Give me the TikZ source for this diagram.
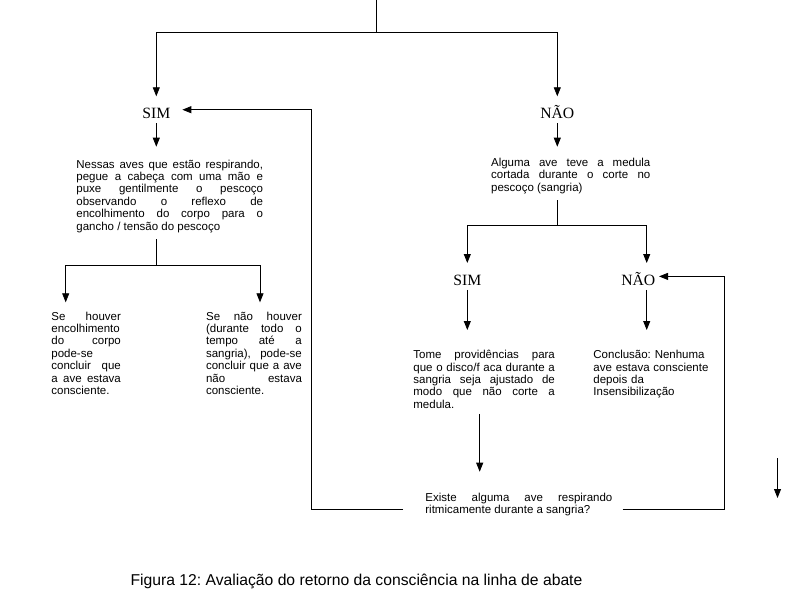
\documentclass[tikz,border=0pt]{standalone}
\usepackage{fontspec}
\setmainfont{Liberation Sans}
\newfontfamily\serifa{Liberation Serif}
\usetikzlibrary{arrows.meta,positioning,calc}
\frenchspacing

\begin{document}
\begin{tikzpicture}[x=1pt,y=-1pt,line width=0.8pt,
    seta/.style={-{Triangle[width=7pt,length=9pt]}},
    rotulo/.style={font=\serifa\fontsize{15.7}{16}\selectfont, inner xsep=0pt, inner ysep=4pt,
        text height=17.6pt, text depth=0.4pt, anchor=base},
    texto/.style={font=\fontsize{11.5}{12.4}\selectfont, inner sep=0pt, align=justify, anchor=north west}]
    \useasboundingbox (0,0) rectangle (791,600);

    \coordinate (topo) at (376.7,0);
    \coordinate (ramo) at (376.7,32.3);
    \node[rotulo] (sim1) at (156.3,118.3) {SIM};
    \node[rotulo] (nao1) at (557.3,118.3) {NÃO};
    \node[texto, text width=186.7pt] (nessas) at (76,159.3)
        {Nessas aves que estão respirando,\linebreak pegue a cabeça com uma mão e\linebreak
         puxe gentilmente o pescoço\linebreak observando o reflexo de\linebreak
         encolhimento do corpo para o\linebreak gancho / tensão do pescoço};
    \node[texto, text width=159.3pt] (alguma) at (490.7,157.7)
        {Alguma ave teve a medula\linebreak cortada durante o corte no\linebreak pescoço (sangria)};
    \coordinate (b1e) at (65.7,265);
    \coordinate (b1d) at (260,265);
    \node[texto, text width=69.5pt] (se1) at (51,311.3)
        {Se houver\linebreak encolhimento\linebreak do corpo\linebreak pode-se\linebreak
         concluir que\linebreak a ave estava\linebreak consciente.};
    \node[texto, text width=95.8pt] (se2) at (205.7,311.3)
        {Se não houver\linebreak (durante todo o\linebreak tempo até a\linebreak sangria), pode-se\linebreak
         concluir que a ave\linebreak não estava\linebreak consciente.};
    \coordinate (c1e) at (467.3,225.7);
    \coordinate (c1d) at (646.7,225.7);
    \node[rotulo] (sim2) at (467.3,285) {SIM};
    \node[rotulo] (nao2) at (638.3,285) {NÃO};
    \node[texto, text width=141.5pt] (tome) at (413,350)
        {Tome providências para\linebreak que o disco/f aca durante a\linebreak
         sangria seja ajustado de\linebreak modo que não corte a\linebreak medula.};
    \node[texto, text width=116pt, align=left] (conclusao) at (593,350)
        {Conclusão: Nenhuma\\ ave estava consciente\\ depois da\\ Insensibilização};
    \node[texto, text width=187pt] (existe) at (425,492.7)
        {Existe alguma ave respirando\linebreak ritmicamente durante a sangria?};
    \coordinate (voltae) at (311.7,509);
    \coordinate (voltad) at (724.3,509);
    \coordinate (solta) at (777.5,458);
    \coordinate (soltab) at (777.5,498);
    \node[font=\fontsize{15.7}{18}\selectfont, anchor=base] (legenda) at (356.5,585)
        {Figura 12: Avaliação do retorno da consciência na linha de abate};

    \draw (topo) -- (ramo);
    \draw[seta] (ramo) -| (sim1.north);
    \draw[seta] (ramo) -| (nao1.north);
    \draw[seta, shorten >=12.6pt] (sim1.south) -- (sim1 |- nessas.north);
    \draw[shorten <=6.6pt] (sim1 |- nessas.south) -- (sim1 |- b1e);
    \draw (b1e) -- (b1d);
    \draw[seta, shorten >=9pt] (b1e) -- (b1e |- se1.north);
    \draw[seta, shorten >=9pt] (b1d) -- (b1d |- se2.north);
    \draw[seta, shorten >=11pt] (nao1.south) -- (nao1 |- alguma.north);
    \draw[shorten <=6pt] (nao1 |- alguma.south) -- (nao1 |- c1e);
    \draw (c1e) -- (c1d);
    \draw[seta] (c1e) -- (sim2.north);
    \draw[seta] (c1d) -- (c1d |- nao2.north);
    \draw[seta, shorten >=20pt] (sim2.south) -- (sim2 |- tome.north);
    \draw[seta, shorten >=20pt] (c1d |- nao2.south) -- (c1d |- conclusao.north);
    \draw[seta, shorten <=5pt, shorten >=21pt] ([xshift=-4.45pt]tome.south)
        -- ([xshift=-4.45pt]tome.south |- existe.north);
    \draw[seta, shorten <=22pt, shorten >=11.7pt] (existe.west |- voltae) -- (voltae) |- (sim1.east);
    \draw[seta, shorten <=9.7pt, shorten >=3.3pt] (existe.east |- voltad) -- (voltad) |- (nao2.east);
    \draw[seta] (solta) -- (soltab);
\end{tikzpicture}
\end{document}
